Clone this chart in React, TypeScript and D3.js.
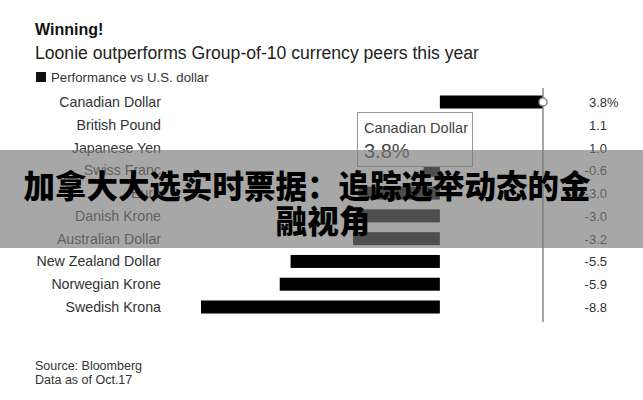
import * as d3 from "d3";
import * as React from "react";

const currencies = [
  "Canadian Dollar",
  "British Pound",
  "Japanese Yen",
  "Swiss Franc",
  "Euro",
  "Danish Krone",
  "Australian Dollar",
  "New Zealand Dollar",
  "Norwegian Krone",
  "Swedish Krona",
];
const performance = [3.8, 1.1, 1.0, -0.6, -3.0, -3.0, -3.2, -5.5, -5.9, -8.8];
const valueLabels = ["3.8", "1.1", "1.0", "-0.6", "-3.0", "-3.0", "-3.2", "-5.5", "-5.9", "-8.8"];
const hovered = 0; // tooltip sits on Canadian Dollar
const bannerLines = ["加拿大大选实时票据：追踪选举动态的金", "融视角"];

const W = 643;
const H = 400;
const font = "'Liberation Sans', Arial, sans-serif";

export default function App() {
  const x = d3.scaleLinear().domain([d3.min(performance), d3.max(performance)]).range([201, 543]);
  const y = d3.scalePoint<string>().domain(currencies).range([102, 307]);
  const barH = 13;
  const hx = x(performance[hovered]);
  const hy = y(currencies[hovered]);
  const bannerX = [307, 323];

  return (
    <div style={{ position: "absolute", left: 0, top: 0 }}>
      <svg width={W} height={H} style={{ display: "block", background: "#fff" }} fontFamily={font}>
        <text x={35} y={35} fontSize={16} fontWeight="bold" fill="#111">Winning!</text>
        <text x={35} y={59} fontSize={17.6} fill="#222">Loonie outperforms Group-of-10 currency peers this year</text>
        <rect x={36} y={72} width={10} height={10} fill="#111" />
        <text x={51} y={82} fontSize={13.2} fill="#333">Performance vs U.S. dollar</text>

        {currencies.map((c, i) => (
          <g key={"row_" + i}>
            <text x={161} y={y(c) + 5} fontSize={14.2} fill="#333" textAnchor="end">{c}</text>
            <rect
              x={Math.min(x(0), x(performance[i]))}
              y={y(c) - barH / 2}
              width={Math.abs(x(performance[i]) - x(0))}
              height={barH}
              fill="#000"
            />
            <text x={607} y={y(c) + 5} fontSize={13} fill="#333" textAnchor="end">{valueLabels[i]}</text>
            {i === 0 && <text x={607} y={y(c) + 5} fontSize={13} fill="#333">%</text>}
          </g>
        ))}

        {/* hover crosshair */}
        <line x1={hx} x2={hx} y1={88} y2={322} stroke="#888" strokeWidth={1.5} />
        <circle cx={hx} cy={hy} r={4} fill="#fff" stroke="#888" strokeWidth={1.5} />

        {/* tooltip */}
        <rect x={357.5} y={112.5} width={115} height={54} fill="#fff" stroke="#999" strokeWidth={1} />
        <text x={364} y={133} fontSize={14.5} fill="#444">{currencies[hovered]}</text>
        <text x={364} y={158} fontSize={20} fill="#444">{valueLabels[hovered]}%</text>

        <text x={35} y={370} fontSize={12.5} fill="#333">Source: Bloomberg</text>
        <text x={35} y={384} fontSize={12.5} fill="#333">Data as of Oct.17</text>

        {/* overlay banner */}
        <rect x={0} y={150} width={W} height={98} fill="rgba(120,120,120,0.65)" />
        {bannerLines.map((t, i) => (
          <text
            key={"banner_" + i}
            x={bannerX[i]}
            y={198 + i * 35}
            fontSize={31.5}
            fontWeight={900}
            fill="#000"
            textAnchor="middle"
            fontFamily="'Noto Sans CJK SC', sans-serif"
          >
            {t}
          </text>
        ))}
      </svg>
    </div>
  );
}
